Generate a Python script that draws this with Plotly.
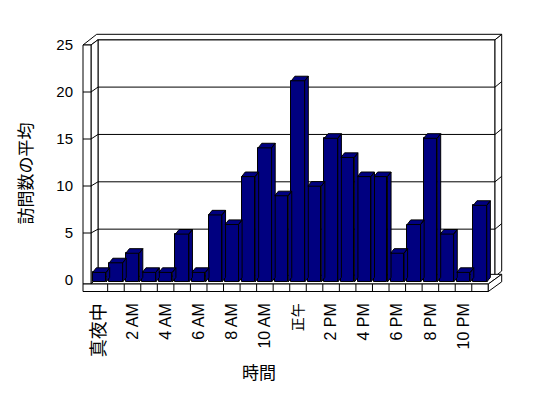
import plotly.graph_objects as go

# ---------------- data ----------------
hours = list(range(24))
visits = [1, 2, 3, 1, 1, 5, 1, 7, 6, 11, 14, 9, 21, 10, 15, 13, 11, 11, 3, 6, 15, 5, 1, 8]
tick_hours = [0, 2, 4, 6, 8, 10, 12, 14, 16, 18, 20, 22]
tick_labels = ["真夜中", "2 AM", "4 AM", "6 AM", "8 AM", "10 AM", "正午",
               "2 PM", "4 PM", "6 PM", "8 PM", "10 PM"]
y_ticks = [0, 5, 10, 15, 20, 25]
y_title = "訪問数の平均"
x_title = "時間"

# ---------------- geometry / style ----------------
W, H = 548, 398
CX0, PITCH = 99.4, 16.55      # px of first category centre, px per category
BY0, BSC = 282.0, 9.58        # px of bar baseline, px per unit (bar plane)
FY0, FSC = 280.0, 9.4         # front (label) plane
BKY0, BKSC = 276.5, 9.47      # back wall plane
NAVY = "#000080"
BAR_W = 13.4 / PITCH
DX, DY = 3.6 / PITCH, 4.6 / BSC
LAT = "Liberation Sans, Arial, Noto Sans CJK JP"
CJK_SIZE = {"真夜中": 18, "正午": 14}


def X(px):
    return (px - CX0) / PITCH


def Y(py):
    return (BY0 - py) / BSC


def yf(v):
    return FY0 - FSC * v


def yb(v):
    return BKY0 - BKSC * v


def path(pts, close=True):
    s = "M " + " L ".join(f"{X(a):.4f},{Y(b):.4f}" for a, b in pts)
    return s + (" Z" if close else "")


# frame x positions (px)
LW_OUT, LW_IN, BW_L, BW_R, OUT_R, FL_R = 83.0, 91.0, 98.0, 495.0, 501.7, 488.3
TOP_BACK = 34.3
FL_TOP, FL_BOT = 284.0, 291.5

shapes = []
frame = dict(type="path", xref="x", yref="y", layer="below",
             fillcolor="white", line=dict(color="black", width=1))
# back wall front face
shapes.append(dict(frame, path=path([(BW_L, yb(25)), (BW_R, yb(25)), (BW_R, yb(0)), (BW_L, yb(0))])))
# back wall right face
shapes.append(dict(frame, path=path([(BW_R, yb(25)), (OUT_R, TOP_BACK), (OUT_R, yb(0) - 5.5), (BW_R, yb(0))])))
# top of walls
shapes.append(dict(frame, path=path([(LW_OUT, yf(25)), (96.7, TOP_BACK), (OUT_R, TOP_BACK),
                                      (BW_R, yb(25)), (BW_L, yb(25)), (LW_IN, yf(25))])))
# floor top
shapes.append(dict(frame, path=path([(LW_IN, FL_TOP), (BW_L, yb(0)), (OUT_R, FL_TOP - 9.7), (FL_R, FL_TOP)])))
# left wall inner face
shapes.append(dict(frame, path=path([(LW_IN, yf(25)), (BW_L, yb(25)), (BW_L, yb(0)), (LW_IN, FL_TOP)])))
# left wall front face
shapes.append(dict(frame, path=path([(LW_OUT, yf(25)), (LW_IN, yf(25)), (LW_IN, FL_TOP), (LW_OUT, FL_TOP)])))
# floor front face
shapes.append(dict(frame, path=path([(LW_OUT, FL_TOP), (FL_R, FL_TOP), (FL_R, FL_BOT), (LW_OUT, FL_BOT)])))
# floor right face
shapes.append(dict(frame, path=path([(FL_R, FL_TOP), (OUT_R, FL_TOP - 9.7), (OUT_R, FL_BOT - 9.7), (FL_R, FL_BOT)])))

# gridlines (wrap around walls)
for v in y_ticks[1:-1]:
    shapes.append(dict(type="path", xref="x", yref="y", layer="below",
                       line=dict(color="black", width=1),
                       path=path([(LW_OUT, yf(v)), (LW_IN, yf(v)), (BW_L, yb(v)),
                                  (BW_R, yb(v)), (OUT_R, yb(v) - 5.5)], close=False)))
# floor category cells
for k in range(1, len(hours)):
    xk = k - 0.5
    shapes.append(dict(type="line", xref="x", yref="y", layer="below",
                       x0=xk, x1=xk, y0=Y(FL_TOP), y1=Y(FL_BOT),
                       line=dict(color="black", width=1)))

# ---------------- bars ----------------
fig = go.Figure()
fig.add_trace(go.Bar(x=hours, y=visits, width=BAR_W,
                     marker=dict(color=NAVY, line=dict(color="black", width=1)),
                     hoverinfo="x+y", showlegend=False))

fx, fy = [], []
for i, v in zip(hours, visits):
    l, r = i - BAR_W / 2, i + BAR_W / 2
    # top face
    fx += [l, r, r + DX, l + DX, l, None]
    fy += [v, v, v + DY, v + DY, v, None]
    # side face
    fx += [r, r + DX, r + DX, r, r, None]
    fy += [0, DY, v + DY, v, 0, None]
fig.add_trace(go.Scatter(x=fx, y=fy, mode="lines", fill="toself", fillcolor=NAVY,
                         line=dict(color="black", width=1), hoverinfo="skip",
                         showlegend=False))

# invisible trace to carry the label axis
fig.add_trace(go.Scatter(x=[0], y=[0], yaxis="y2", mode="markers",
                         marker=dict(opacity=0), hoverinfo="skip", showlegend=False))

ticktext = [f"<span style='font-size:{CJK_SIZE[t]}px'>{t}</span>" if t in CJK_SIZE else t
            for t in tick_labels]

fig.update_layout(
    width=W, height=H, margin=dict(l=0, r=0, t=0, b=0, pad=0),
    paper_bgcolor="white", plot_bgcolor="white",
    font=dict(family=LAT, size=15, color="black"),
    shapes=shapes, bargap=0,
    xaxis=dict(range=[X(0), X(W)], domain=[0, 1], showgrid=False, zeroline=False,
               showline=False, ticks="", tickmode="array", tickvals=tick_hours,
               ticktext=ticktext, tickangle=-90, anchor="free",
               position=(H - 299) / H, tickfont=dict(size=16, family=LAT)),
    yaxis=dict(range=[Y(H), Y(0)], domain=[0, 1], showgrid=False, zeroline=False,
               showline=False, showticklabels=False, ticks=""),
    yaxis2=dict(range=[(FY0 - H) / FSC, FY0 / FSC], overlaying="y", anchor="free",
                position=73 / W, side="left", showgrid=False, zeroline=False,
                showline=False, ticks="", tickmode="array", tickvals=y_ticks,
                tickfont=dict(size=15, family=LAT)),
    annotations=[
        dict(text=y_title, x=26 / W, y=1 - 173.5 / H, xref="paper", yref="paper",
             xanchor="center", yanchor="middle",
             textangle=-90, showarrow=False, font=dict(size=17, family=LAT)),
        dict(text=x_title, x=259 / W, y=1 - 373 / H, xref="paper", yref="paper",
             xanchor="center", yanchor="middle",
             showarrow=False, font=dict(size=17, family=LAT)),
    ],
)

fig.write_html("out.html", config={"displayModeBar": False},
               post_script="document.body.style.margin='0';")
